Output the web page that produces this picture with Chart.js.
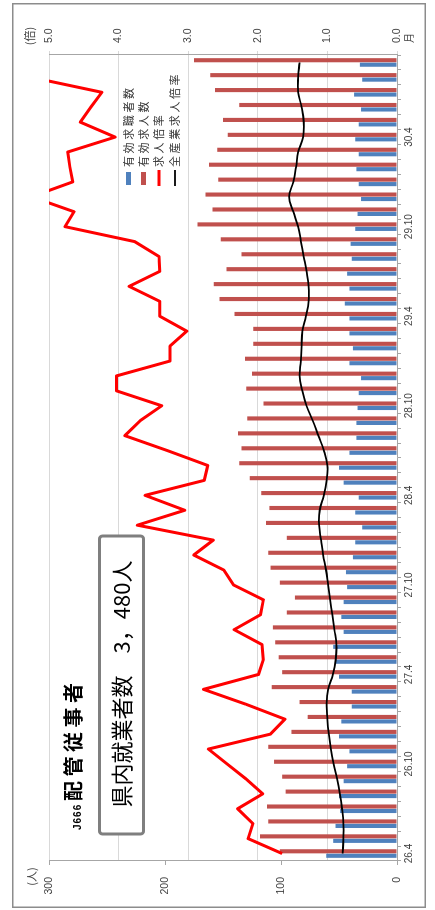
<!DOCTYPE html>
<html>
<head>
<meta charset="utf-8">
<script src="https://cdn.jsdelivr.net/npm/chart.js@4.4.1/dist/chart.umd.min.js"></script>
<style>
  html, body { margin: 0; padding: 0; background: #fff; width: 435px; height: 910px; overflow: hidden; }
  /* the chart is laid out landscape and turned a quarter turn to stand upright on the page */
  #frame { position: absolute; left: 12px; top: 908px; width: 905px; height: 414px;
           transform-origin: 0 0; transform: rotate(-90deg); }
  #frame canvas { display: block; }
</style>
</head>
<body>
<div id="frame"><canvas id="c" width="905" height="414"></canvas></div>
<script>
// 月（平成年.月）
const months = [
  '26.4','26.5','26.6','26.7','26.8','26.9','26.10','26.11','26.12',
  '27.1','27.2','27.3','27.4','27.5','27.6','27.7','27.8','27.9','27.10','27.11','27.12',
  '28.1','28.2','28.3','28.4','28.5','28.6','28.7','28.8','28.9','28.10','28.11','28.12',
  '29.1','29.2','29.3','29.4','29.5','29.6','29.7','29.8','29.9','29.10','29.11','29.12',
  '30.1','30.2','30.3','30.4','30.5','30.6','30.7','30.8','30.9'
];
// 目盛りに表示する月
const tickMonths = ['26.4','26.10','27.4','27.10','28.4','28.10','29.4','29.10','30.4'];

// 有効求職者数（人）
const seekers = [
  61, 55, 53, 49, 50, 46, 43, 41, 50,
  48, 39, 39, 50, 53, 55, 46, 48, 46, 43, 44, 38,
  36, 30, 36, 33, 46, 50, 41, 35, 35, 34, 33, 31,
  41, 38, 41, 41, 45, 41, 43, 39, 40, 36, 34, 31,
  33, 35, 33, 36, 33, 31, 37, 30, 32
];
// 有効求人数（人）
const openings = [
  101, 118, 111, 112, 96, 99, 106, 111, 91,
  77, 84, 108, 99, 102, 105, 107, 95, 88, 101, 109, 111,
  95, 113, 110, 117, 127, 136, 134, 137, 129, 115, 130, 125,
  131, 124, 124, 140, 153, 158, 147, 134, 152, 172, 159, 165,
  154, 162, 155, 146, 150, 136, 157, 161, 175
];
// 求人倍率（倍）
const jobRatio = [
  1.65, 2.14, 2.07, 2.29, 1.93, 2.17, 2.44, 2.71, 1.82,
  1.61, 2.17, 2.78, 1.99, 1.92, 1.94, 2.34, 1.96, 1.92, 2.35, 2.49, 2.92,
  2.64, 3.73, 3.05, 3.62, 2.77, 2.72, 3.30, 3.91, 3.69, 3.38, 4.03, 4.03,
  3.26, 3.26, 3.02, 3.41, 3.41, 3.85, 3.41, 3.42, 3.77, 4.77, 4.64, 5.25,
  4.66, 4.70, 4.73, 4.05, 4.55, 4.40, 4.24, 5.25, 5.40
];
// 全産業求人倍率（倍）
const allIndustryRatio = [
  0.78, 0.77, 0.77, 0.79, 0.82, 0.86, 0.91, 0.95, 0.98,
  1.00, 1.01, 0.99, 0.92, 0.88, 0.87, 0.90, 0.93, 0.96, 0.99, 1.02, 1.06,
  1.09, 1.12, 1.11, 1.05, 1.01, 1.00, 1.05, 1.13, 1.21, 1.30, 1.36, 1.40,
  1.38, 1.37, 1.36, 1.31, 1.27, 1.27, 1.30, 1.34, 1.38, 1.42, 1.49, 1.55,
  1.49, 1.45, 1.42, 1.35, 1.34, 1.37, 1.42, 1.42, 1.40
];
// 軸の目盛り
const peopleTicks = [0, 100, 200, 300];
const ratioTicks = [0, 1, 2, 3, 4, 5];

const titleCode = 'J666';
const titleName = '配管従事者';
const boxText = '県内就業者数　3，480人';
const unitPeople = '(人)';
const unitRatio = '(倍)';
const unitMonth = '月';

const CJK = '"Noto Sans CJK JP", sans-serif';

// frame, titles, note box and legend drawn on top of the plot
const overlay = {
  id: 'overlay',
  afterDraw(chart) {
    const ctx = chart.ctx;
    const W = chart.width, H = chart.height;
    ctx.save();

    ctx.strokeStyle = '#8c8c8c';
    ctx.lineWidth = 1.5;
    ctx.strokeRect(0.75, 0.75, W - 1.5, H - 1.5);

    ctx.fillStyle = '#404040';
    ctx.textAlign = 'center';
    ctx.textBaseline = 'middle';
    ctx.font = '11px ' + CJK;
    ctx.fillText(unitPeople, 31.5, 20);
    ctx.fillText(unitRatio, 872, 18);
    ctx.font = '10px ' + CJK;
    ctx.fillText(unitMonth, 870, 397.5);

    // title
    ctx.fillStyle = '#000';
    ctx.textAlign = 'left';
    ctx.textBaseline = 'alphabetic';
    ctx.font = 'bold 10px "Liberation Sans", sans-serif';
    ctx.letterSpacing = '1px';
    ctx.fillText(titleCode, 78, 69);
    ctx.font = 'bold 20px ' + CJK;
    ctx.letterSpacing = '4.5px';
    ctx.fillText(titleName, 107, 69);

    // note box
    ctx.letterSpacing = '0px';
    ctx.beginPath();
    ctx.roundRect(74, 87.5, 298, 44, 3);
    ctx.fillStyle = '#fff';
    ctx.fill();
    ctx.strokeStyle = '#7f7f7f';
    ctx.lineWidth = 3;
    ctx.stroke();
    ctx.fillStyle = '#000';
    ctx.font = '22px ' + CJK;
    ctx.textAlign = 'center';
    ctx.textBaseline = 'middle';
    ctx.fillText(boxText, 224, 110);

    // legend
    const rows = [116.5, 131.5, 147, 163];
    ctx.font = '11px ' + CJK;
    ctx.textAlign = 'left';
    ctx.letterSpacing = '2.6px';
    chart.data.datasets.forEach((ds, i) => {
      const v = rows[i];
      if (ds.type === 'line') {
        ctx.strokeStyle = ds.borderColor;
        ctx.lineWidth = ds.borderWidth;
        ctx.beginPath();
        ctx.moveTo(722, v);
        ctx.lineTo(738, v);
        ctx.stroke();
      } else {
        ctx.fillStyle = ds.backgroundColor;
        ctx.fillRect(723, v - 2.5, 13, 5);
      }
      ctx.fillStyle = '#333';
      ctx.fillText(ds.label, 741, v);
    });
    ctx.restore();
  }
};

Chart.defaults.font.family = '"Liberation Sans", "Noto Sans CJK JP", sans-serif';
Chart.defaults.color = '#404040';

new Chart(document.getElementById('c'), {
  type: 'bar',
  data: {
    labels: months,
    datasets: [
      { type: 'bar', label: '有効求職者数', data: seekers, yAxisID: 'yL',
        backgroundColor: '#4F81BD', borderWidth: 0, order: 2,
        categoryPercentage: 0.6, barPercentage: 0.92 },
      { type: 'bar', label: '有効求人数', data: openings, yAxisID: 'yL',
        backgroundColor: '#C0504D', borderWidth: 0, order: 2,
        categoryPercentage: 0.6, barPercentage: 0.92 },
      { type: 'line', label: '求人倍率', data: jobRatio, yAxisID: 'yR',
        borderColor: '#FF0000', borderWidth: 3, tension: 0, pointRadius: 0,
        fill: false, order: 1, clip: 0, borderJoinStyle: 'round' },
      { type: 'line', label: '全産業求人倍率', data: allIndustryRatio, yAxisID: 'yR',
        borderColor: '#000000', borderWidth: 1.8, tension: 0.4, pointRadius: 0,
        fill: false, order: 0, clip: 0 }
    ]
  },
  options: {
    responsive: false,
    animation: false,
    devicePixelRatio: 1,
    layout: { padding: { top: 37, left: 0, right: 0, bottom: 0 } },
    plugins: { legend: { display: false }, tooltip: { enabled: false } },
    scales: {
      x: {
        type: 'category',
        offset: true,
        grid: { offset: true, drawOnChartArea: false, drawTicks: true, tickLength: 4, color: '#a6a6a6' },
        border: { display: true, color: '#a6a6a6' },
        ticks: {
          autoSkip: false, maxRotation: 0, minRotation: 0, padding: 2,
          font: { size: 10 },
          callback: (v, i) => tickMonths.includes(months[i]) ? months[i] : ''
        },
        afterFit: (s) => { s.height = 29; }
      },
      yL: {
        position: 'left',
        min: peopleTicks[0], max: peopleTicks[peopleTicks.length - 1],
        ticks: { stepSize: peopleTicks[1] - peopleTicks[0], padding: 12, font: { size: 10.5 } },
        grid: { drawOnChartArea: false, drawTicks: true, tickLength: 4, color: '#a6a6a6' },
        border: { display: true, color: '#a6a6a6' },
        afterFit: (s) => { s.width = 47; }
      },
      yR: {
        position: 'right',
        min: ratioTicks[0], max: ratioTicks[ratioTicks.length - 1],
        ticks: { stepSize: ratioTicks[1] - ratioTicks[0], padding: 8, font: { size: 10.5 },
                 callback: (v) => Number(v).toFixed(1) },
        grid: { drawOnChartArea: true, drawTicks: true, tickLength: 4, color: '#d9d9d9' },
        border: { display: true, color: '#a6a6a6' },
        afterFit: (s) => { s.width = 52; }
      }
    }
  },
  plugins: [overlay]
});
</script>
</body>
</html>
